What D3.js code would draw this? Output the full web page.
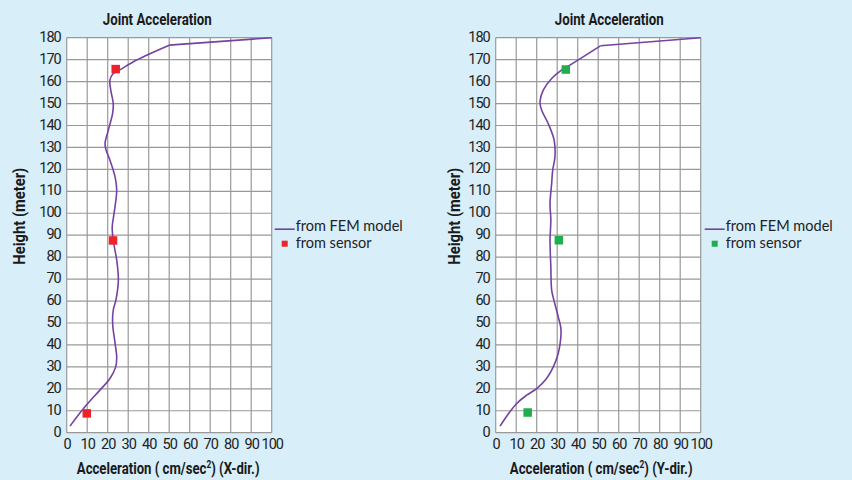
<!DOCTYPE html>
<html>
<head>
<meta charset="utf-8">
<script src="https://cdn.jsdelivr.net/npm/d3@7"></script>
<style>
  html, body { margin: 0; padding: 0; background: #d8eef9; }
  svg { display: block; }
  .tick-label { font-family: "Roboto", "Liberation Sans", sans-serif; font-size: 14.5px; letter-spacing: -1px; fill: #222; }
  .bold-label { font-family: "Roboto", "Liberation Sans", sans-serif; font-weight: bold; fill: #1a1a1a; }
  .legend-text { font-family: "Lato", "Noto Sans", sans-serif; font-size: 14.5px; fill: #222; }
</style>
</head>
<body>
<svg id="chart" width="852" height="480"></svg>
<script>
// Axis tick values
const accelTicks = [0, 10, 20, 30, 40, 50, 60, 70, 80, 90, 100];
const heightTicks = [0, 10, 20, 30, 40, 50, 60, 70, 80, 90, 100, 110, 120, 130, 140, 150, 160, 170, 180];

// FEM model profile, X direction (acceleration, height)
const femXAccel  = [1.6, 8.9, 16.2, 21.1, 23.9, 24.4, 23.6, 22.4, 22.7, 24.0, 25.2, 24.4, 22.7, 22.2, 23.1, 24.4, 23.6, 21.1, 19.2, 18.7, 20.3, 22.4, 22.7, 21.5, 21.1, 22.7, 25.2, 34.1, 50.0, 100];
const femXHeight = [3.0, 11.8, 19.4, 24.7, 30.0, 34.5, 40.7, 49.8, 55.8, 60.4, 69.5, 78.6, 87.7, 93.8, 99.9, 110.5, 116.6, 124.2, 128.8, 131.8, 137.9, 145.5, 150.0, 156.1, 160.7, 163.7, 164.9, 169.8, 176.6, 180];

// Sensor readings, X direction
const sensorXAccel  = [9.8, 22.6, 23.9];
const sensorXHeight = [8.8, 87.6, 165.7];

// FEM model profile, Y direction
const femYAccel  = [2.1, 9.9, 15.1, 20.0, 24.8, 28.1, 30.5, 31.8, 31.7, 30.5, 28.4, 27.3, 26.9, 26.5, 26.9, 26.5, 27.3, 27.8, 28.9, 28.5, 25.6, 22.4, 21.6, 23.2, 27.3, 32.1, 36.2, 51.1, 100];
const femYHeight = [3.0, 13.0, 17.1, 20.1, 24.7, 30.0, 36.1, 43.7, 48.2, 52.8, 60.4, 65.0, 75.6, 87.7, 96.9, 104.5, 113.6, 119.6, 125.7, 133.3, 140.9, 147.0, 150.8, 156.1, 161.4, 165.2, 167.5, 176.3, 180];

// Sensor readings, Y direction
const sensorYAccel  = [15.6, 30.8, 34.2];
const sensorYHeight = [9.2, 87.7, 165.5];

const chartTitle = "Joint Acceleration";
const yTitle = "Height (meter)";
const legendLabels = ["from FEM model", "from sensor"];

const svg = d3.select("#chart");
const plotW = 205, plotH = 395;
const femColor = "#7442a0";

// Squeeze a centred text horizontally (along its own baseline) to a target width
function condense(textSel, cx, cy, width, rotate) {
  const w = textSel.node().getBBox().width;
  const k = Math.min(1, width / w);
  textSel.attr("transform", `translate(${cx},${cy})${rotate ? " rotate(-90)" : ""} scale(${k},1)`);
}

function drawPanel(opts) {
  const g = svg.append("g").attr("transform", `translate(${opts.left},${opts.top})`);
  const x = d3.scaleLinear().domain([0, 100]).range([0, plotW]);
  const y = d3.scaleLinear().domain([0, 180]).range([plotH, 0]);

  // plot background
  g.append("rect").attr("width", plotW).attr("height", plotH).attr("fill", "#fff");

  // grid
  g.append("g").selectAll("line").data(accelTicks).join("line")
    .attr("x1", d => x(d)).attr("x2", d => x(d))
    .attr("y1", 0).attr("y2", plotH)
    .attr("stroke", "#999").attr("stroke-width", 1.2);
  g.append("g").selectAll("line").data(heightTicks).join("line")
    .attr("y1", d => y(d)).attr("y2", d => y(d))
    .attr("x1", 0).attr("x2", plotW)
    .attr("stroke", "#999").attr("stroke-width", 1.2);

  // axes
  const yAxis = g.append("g").call(d3.axisLeft(y).tickValues(heightTicks).tickSize(0).tickPadding(6));
  yAxis.select(".domain").remove();
  yAxis.selectAll("text").attr("class", "tick-label").attr("dy", "0.25em");

  const xAxis = g.append("g").attr("transform", `translate(0,${plotH})`)
    .call(d3.axisBottom(x).tickValues(accelTicks).tickSize(0));
  xAxis.select(".domain").remove();
  xAxis.selectAll("text").attr("class", "tick-label").attr("y", 16.5).attr("dy", 0);

  // FEM line: smooth through the tower, straight across the top segment
  const pts = opts.femAccel.map((a, i) => [a, opts.femHeight[i]]);
  const line = d3.line().x(d => x(d[0])).y(d => y(d[1]));
  g.append("path").datum(pts.slice(0, pts.length - 1))
    .attr("fill", "none").attr("stroke", femColor).attr("stroke-width", 1.6)
    .attr("d", line.curve(d3.curveCatmullRom.alpha(0.5)));
  g.append("path").datum(pts.slice(pts.length - 2))
    .attr("fill", "none").attr("stroke", femColor).attr("stroke-width", 1.6)
    .attr("d", line.curve(d3.curveLinear));

  // sensor markers
  const s = 8.5;
  g.append("g").selectAll("rect").data(opts.sensorAccel.map((a, i) => [a, opts.sensorHeight[i]])).join("rect")
    .attr("x", d => x(d[0]) - s / 2).attr("y", d => y(d[1]) - s / 2)
    .attr("width", s).attr("height", s).attr("fill", opts.color);

  // titles
  const title = g.append("text").attr("class", "bold-label").attr("font-size", 17)
    .attr("text-anchor", "middle").text(chartTitle);
  condense(title, opts.titleX, -12.5, 109);

  const xt = g.append("text").attr("class", "bold-label").attr("font-size", 16.5)
    .attr("text-anchor", "middle");
  xt.append("tspan").text("Acceleration ( cm/sec");
  xt.append("tspan").attr("font-size", 10.5).attr("dy", -6).text("2");
  xt.append("tspan").attr("dy", 6).text(opts.xSuffix);
  condense(xt, opts.xTitleX, plotH + 41, 183);

  const yt = g.append("text").attr("class", "bold-label").attr("font-size", 16)
    .attr("text-anchor", "middle").text(yTitle);
  condense(yt, opts.yTitleX, 178.5, 97, true);

  // legend
  const lg = g.append("g").attr("transform", `translate(${plotW},0)`);
  lg.append("line").attr("x1", opts.legendDx).attr("x2", opts.legendDx + 20).attr("y1", 191.5).attr("y2", 191.5)
    .attr("stroke", femColor).attr("stroke-width", 1.6);
  lg.append("text").attr("class", "legend-text").attr("x", opts.legendDx + 21).attr("y", 193).text(legendLabels[0]);
  lg.append("rect").attr("x", opts.legendDx + 7).attr("y", 203).attr("width", 6).attr("height", 6).attr("fill", opts.color);
  lg.append("text").attr("class", "legend-text").attr("x", opts.legendDx + 21).attr("y", 210).text(legendLabels[1]);
}

drawPanel({
  left: 66.7, top: 37.7,
  femAccel: femXAccel, femHeight: femXHeight,
  sensorAccel: sensorXAccel, sensorHeight: sensorXHeight,
  color: "#ee2229", xSuffix: ") (X-dir.)",
  titleX: 90.5, xTitleX: 101.5, yTitleX: -42, legendDx: 3
});
drawPanel({
  left: 495.7, top: 37.7,
  femAccel: femYAccel, femHeight: femYHeight,
  sensorAccel: sensorYAccel, sensorHeight: sensorYHeight,
  color: "#1fae4b", xSuffix: ") (Y-dir.)",
  titleX: 113.5, xTitleX: 105.5, yTitleX: -36, legendDx: 4
});
</script>
</body>
</html>
